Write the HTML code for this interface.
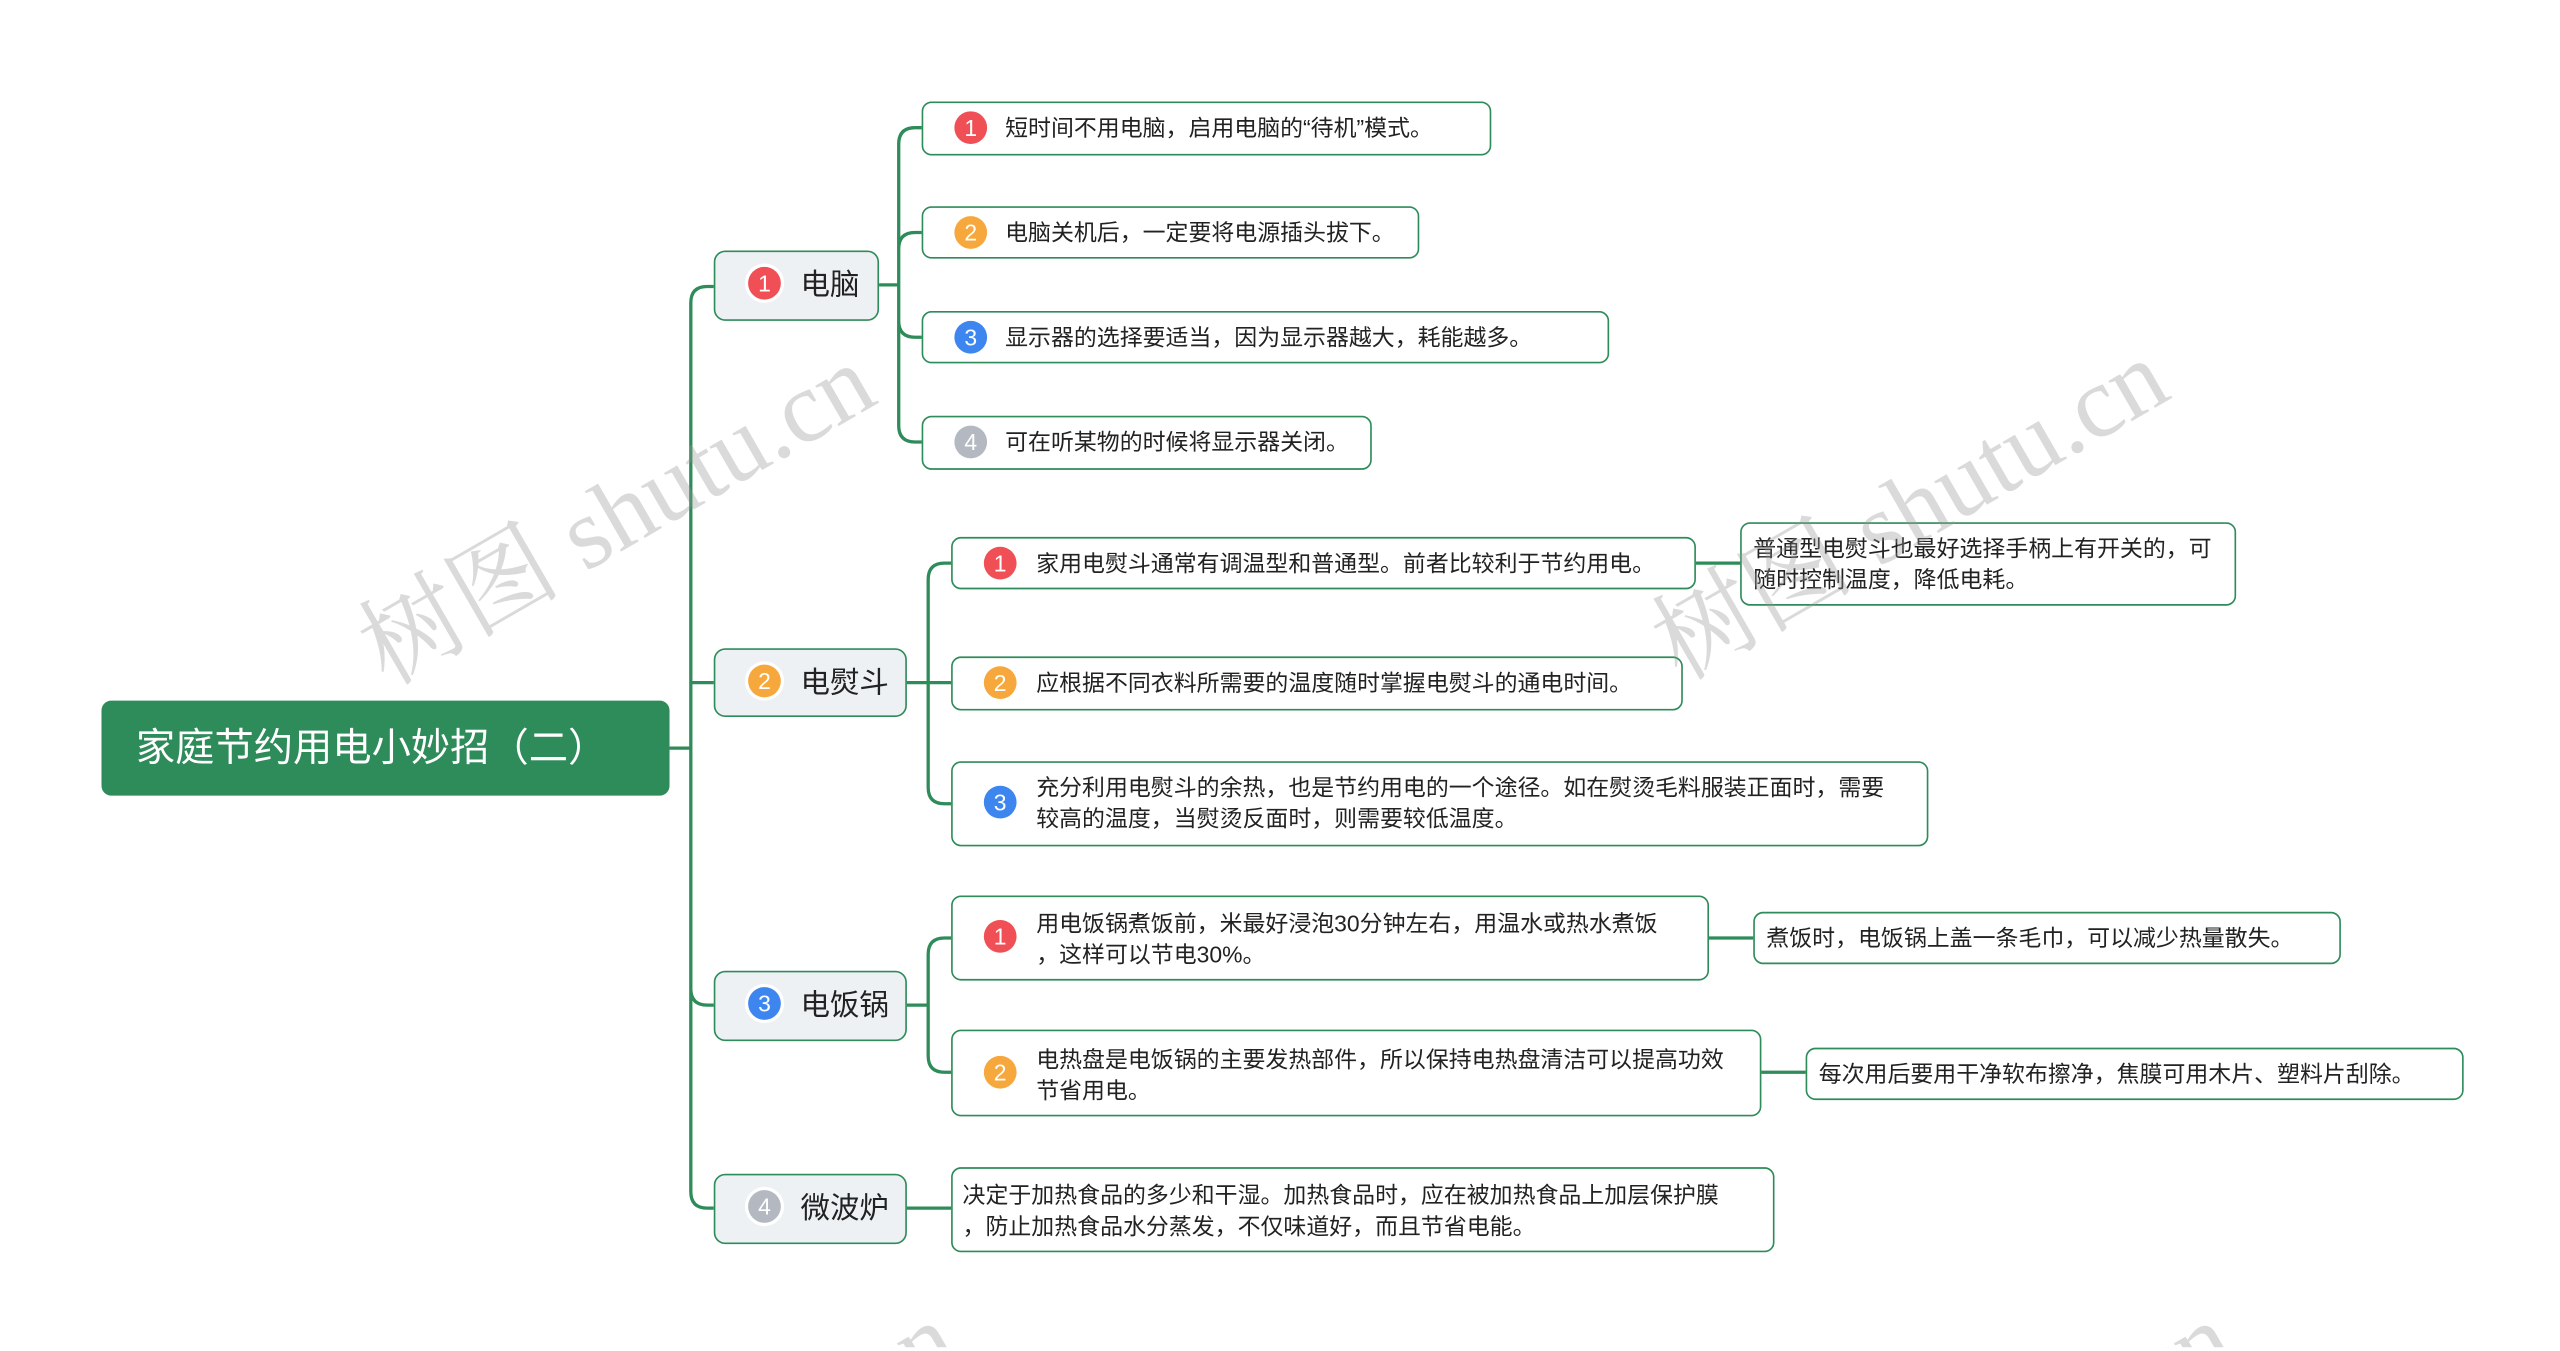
<!DOCTYPE html>
<html><head><meta charset="utf-8"><style>
html,body{margin:0;padding:0;background:#fff;overflow:hidden;width:2560px;height:1351px}
#wrap{width:2560px;height:1351px;position:relative;overflow:hidden;background:#fff}
#s{position:absolute;left:0;top:0;width:1561px;height:823px;overflow:hidden;transform:scale(1.637);transform-origin:0 0;font-family:"Liberation Sans","Noto Sans CJK SC",sans-serif;color:#222}
.n{position:absolute;box-sizing:border-box;border:1.3px solid #2e8b5a;border-radius:6px;background:#fff;font-size:14px;line-height:19px;display:flex;align-items:center}
.l1{background:#eef1f4;font-size:18px;border-radius:7px}
.b{position:absolute;width:20px;height:20px;border-radius:50%;color:#fff;font-size:14px;line-height:20px;text-align:center;box-shadow:0 0 0 2px #fff}
.r{background:#ef4f55}.o{background:#f6a83c}.u{background:#3d86ef}.g{background:#b4b9c1}
.t{position:absolute;white-space:nowrap}
.wm{position:absolute;font-family:"Liberation Serif","Noto Serif CJK SC",serif;font-size:62px;color:rgba(150,150,150,0.35);transform:rotate(-30deg);white-space:nowrap;transform-origin:center}
</style></head><body><div id="wrap"><div id="s">
<svg width="1561" height="823" style="position:absolute;left:0;top:0" fill="none" stroke="#2e8b5a" stroke-width="2">
<path d="M409 457 H422"/>
<path d="M422 185 Q422 175 432 175 H436 M422 185 V728 Q422 738 432 738 H436 M422 417 H436 M422 604 Q422 614 432 614 H436"/>
<path d="M537 174 H549 M549 88 Q549 78 559 78 H563 M549 88 V260 Q549 270 559 270 H563 M549 152 Q549 142 559 142 H563 M549 196 Q549 206 559 206 H563"/>
<path d="M554 417 H581 M567 354 Q567 344 577 344 H581 M567 354 V481 Q567 491 577 491 H581"/>
<path d="M1036 344 H1063"/>
<path d="M554 614 H567 M567 583 Q567 573 577 573 H581 M567 583 V645 Q567 655 577 655 H581"/>
<path d="M1044 573 H1071 M1076 655 H1103"/>
<path d="M554 738 H581"/>
</svg>
<div class="n" style="left:62px;top:428px;width:347px;height:58px;background:#2e8b5a;border-color:#2e8b5a;color:#fff;font-size:24px;padding-left:20px">家庭节约用电小妙招（二）</div>

<div class="n l1" style="left:436px;top:153px;width:101px;height:43px"><span class="b r" style="left:20px;top:9px">1</span><span class="t" style="left:52px">电脑</span></div>
<div class="n l1" style="left:436px;top:396px;width:118px;height:42px"><span class="b o" style="left:20px;top:9px">2</span><span class="t" style="left:52px">电熨斗</span></div>
<div class="n l1" style="left:436px;top:593px;width:118px;height:43px"><span class="b u" style="left:20px;top:9px">3</span><span class="t" style="left:52px">电饭锅</span></div>
<div class="n l1" style="left:436px;top:717px;width:118px;height:43px"><span class="b g" style="left:20px;top:9px">4</span><span class="t" style="left:52px">微波炉</span></div>

<div class="n" style="left:563px;top:62px;width:348px;height:33px"><span class="b r" style="left:19px;top:5px">1</span><span class="t" style="left:50px">短时间不用电脑，启用电脑的“待机”模式。</span></div>
<div class="n" style="left:563px;top:126px;width:304px;height:32px"><span class="b o" style="left:19px;top:5px">2</span><span class="t" style="left:50px">电脑关机后，一定要将电源插头拔下。</span></div>
<div class="n" style="left:563px;top:190px;width:420px;height:32px"><span class="b u" style="left:19px;top:5px">3</span><span class="t" style="left:50px">显示器的选择要适当，因为显示器越大，耗能越多。</span></div>
<div class="n" style="left:563px;top:254px;width:275px;height:33px"><span class="b g" style="left:19px;top:5px">4</span><span class="t" style="left:50px">可在听某物的时候将显示器关闭。</span></div>

<div class="n" style="left:581px;top:328px;width:455px;height:32px"><span class="b r" style="left:19px;top:5px">1</span><span class="t" style="left:51px">家用电熨斗通常有调温型和普通型。前者比较利于节约用电。</span></div>
<div class="n" style="left:1063px;top:319px;width:303px;height:51px"><span class="t" style="left:7px;top:6px">普通型电熨斗也最好选择手柄上有开关的，可<br>随时控制温度，降低电耗。</span></div>
<div class="n" style="left:581px;top:401px;width:447px;height:33px"><span class="b o" style="left:19px;top:5px">2</span><span class="t" style="left:51px">应根据不同衣料所需要的温度随时掌握电熨斗的通电时间。</span></div>
<div class="n" style="left:581px;top:465px;width:597px;height:52px"><span class="b u" style="left:19px;top:14px">3</span><span class="t" style="left:51px;top:6px">充分利用电熨斗的余热，也是节约用电的一个途径。如在熨烫毛料服装正面时，需要<br>较高的温度，当熨烫反面时，则需要较低温度。</span></div>

<div class="n" style="left:581px;top:547px;width:463px;height:52px"><span class="b r" style="left:19px;top:14px">1</span><span class="t" style="left:51px;top:7px">用电饭锅煮饭前，米最好浸泡30分钟左右，用温水或热水煮饭<br>，这样可以节电30%。</span></div>
<div class="n" style="left:1071px;top:557px;width:359px;height:32px"><span class="t" style="left:7px">煮饭时，电饭锅上盖一条毛巾，可以减少热量散失。</span></div>
<div class="n" style="left:581px;top:629px;width:495px;height:53px"><span class="b o" style="left:19px;top:15px">2</span><span class="t" style="left:51px;top:8px">电热盘是电饭锅的主要发热部件，所以保持电热盘清洁可以提高功效<br>节省用电。</span></div>
<div class="n" style="left:1103px;top:640px;width:402px;height:32px"><span class="t" style="left:7px">每次用后要用干净软布擦净，焦膜可用木片、塑料片刮除。</span></div>

<div class="n" style="left:581px;top:713px;width:503px;height:52px"><span class="t" style="left:6px;top:7px">决定于加热食品的多少和干湿。加热食品时，应在被加热食品上加层保护膜<br>，防止加热食品水分蒸发，不仅味道好，而且节省电能。</span></div>

<div class="wm" style="left:200px;top:265px">树图 shutu.cn</div>
<div class="wm" style="left:990px;top:262px">树图 shutu.cn</div>
<div class="wm" style="left:250px;top:850px">树图 shutu.cn</div>
<div class="wm" style="left:1030px;top:850px">树图 shutu.cn</div>
</div></div></body></html>
